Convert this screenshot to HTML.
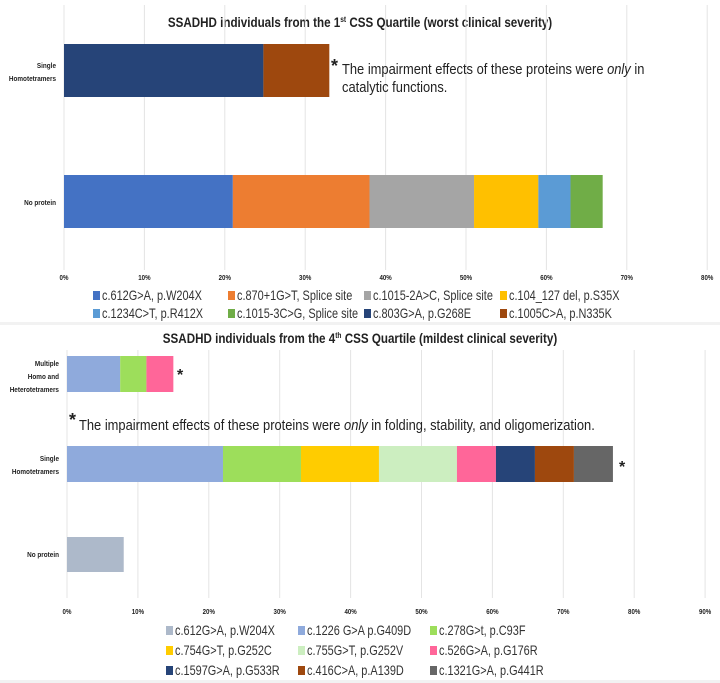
<!DOCTYPE html>
<html><head><meta charset="utf-8">
<style>
body{margin:0;background:#f2f2f2;font-family:"Liberation Sans",sans-serif;}
svg{display:block}
</style></head>
<body>
<svg id="c" width="720" height="683" xmlns="http://www.w3.org/2000/svg"></svg>
<script>
const topCats = ["Single Homotetramers","No protein"];
const topSeriesNames = ["c.612G>A, p.W204X","c.870+1G>T, Splice site","c.1015-2A>C, Splice site","c.104_127 del, p.S35X","c.1234C>T, p.R412X","c.1015-3C>G, Splice site","c.803G>A, p.G268E","c.1005C>A, p.N335K"];
const topSeriesColors = ["#4472C4","#ED7D31","#A5A5A5","#FFC000","#5B9BD5","#70AD47","#264478","#9E480E"];
const topSingle = [0,0,0,0,0,0,24.8,8.2];
const topNoProtein = [21,17,13,8,4,4,0,0];
const topTicks = ["0%","10%","20%","30%","40%","50%","60%","70%","80%"];

const botCats = ["Multiple Homo and Heterotetramers","Single Homotetramers","No protein"];
const botSeriesNames = ["c.612G>A, p.W204X","c.1226 G>A p.G409D","c.278G>t, p.C93F","c.754G>T, p.G252C","c.755G>T, p.G252V","c.526G>A, p.G176R","c.1597G>A, p.G533R","c.416C>A, p.A139D","c.1321G>A, p.G441R"];
const botSeriesColors = ["#ADB9CA","#8FAADC","#9DDE5B","#FFCC00","#CCEEC0","#FF6699","#264478","#9E480E","#666666"];
const botMultiple = [0,7.5,3.7,0,0,3.8,0,0,0];
const botSingle = [0,22,11,11,11,5.5,5.5,5.5,5.5];
const botNoProtein = [8,0,0,0,0,0,0,0,0];
const botTicks = ["0%","10%","20%","30%","40%","50%","60%","70%","80%","90%"];

const svg = document.getElementById('c');
const NS = "http://www.w3.org/2000/svg";
function mk(tag, attrs, name, parent){
  const e = document.createElementNS(NS, tag);
  for (const k in attrs) e.setAttribute(k, attrs[k]);
  
  
  (parent||svg).appendChild(e);
  return e;
}
function squeeze(t,f){
  const w = t.getComputedTextLength();
  if (w>0){ t.setAttribute('textLength', (w*f).toFixed(1)); t.setAttribute('lengthAdjust','spacingAndGlyphs'); }
}
function txt(x,y,s,size,name,opts){
  opts=opts||{};
  const t = mk('text',{x:x,y:y,'font-size':size,fill:opts.fill||'#222','text-anchor':opts.anchor||'start','font-weight':opts.bold?'bold':'normal','font-family':'"Liberation Sans",sans-serif'},name);
  if (opts.html) t.innerHTML = s; else t.textContent = s;
  squeeze(t, opts.f||0.82);
  return t;
}

mk('rect',{x:0,y:0,width:720,height:322,fill:'#fff'},'top-panel');
mk('rect',{x:0,y:325,width:720,height:355,fill:'#fff'},'bottom-panel');

function chart(cfg){
  const xs = v => cfg.x0 + v * cfg.pxPer;
  cfg.ticks.forEach((t,i)=>{
    const x = xs(i*10);
    mk('line',{x1:x,x2:x,y1:cfg.gy0,y2:cfg.gy1,stroke:'#e4e4e4','stroke-width':1},cfg.p+'-gridline');
    txt(x,cfg.tickY,t,7.5,cfg.p+'-x-tick',{anchor:'middle',bold:true});
  });
  cfg.rows.forEach((r,ri)=>{
    let acc=0;
    r.vals.forEach((v,si)=>{
      if(v<=0) return;
      mk('rect',{x:xs(acc),y:r.y,width:xs(acc+v)-xs(acc),height:r.h,fill:cfg.colors[si]},cfg.p+'-bar-'+ri+'-'+si);
      acc+=v;
    });
    r.label.forEach((l,li)=>txt(cfg.x0-8,r.ly+li*13,l,7.5,cfg.p+'-y-label',{anchor:'end',bold:true,f:0.85}));
  });
  cfg.names.forEach((n,i)=>{
    const col=i%cfg.perRow,row=Math.floor(i/cfg.perRow);
    const x=cfg.legX[col],y=cfg.legY+row*cfg.legDy;
    mk('rect',{x:x,y:y-9,width:7,height:9,fill:cfg.colors[i]},cfg.p+'-legend-swatch');
    txt(x+9,y,n,14,cfg.p+'-legend-entry',{fill:'#333',f:0.78});
  });
}

txt(360,27,'SSADHD individuals from the 1<tspan font-size="8" dy="-5">st</tspan><tspan dy="5"> CSS Quartile (worst clinical severity)</tspan>',14,'top-title',{anchor:'middle',bold:true,html:true,f:0.83});
chart({p:'top',x0:64,pxPer:8.04,ticks:topTicks,gy0:5,gy1:270,tickY:280,colors:topSeriesColors,names:topSeriesNames,
  rows:[{vals:topSingle,y:44,h:53,label:["Single","Homotetramers"],ly:68},{vals:topNoProtein,y:175,h:53,label:["No protein"],ly:205}],
  perRow:4,legX:[93,228,364,500],legY:300,legDy:18});
txt(331,72,"*",18,'top-asterisk',{bold:true,f:1});
txt(342,74,'The impairment effects of these proteins were <tspan font-style="italic">only</tspan> in',15,'top-note',{html:true,f:0.86});
txt(342,92,"catalytic functions.",15,'top-note-line2',{f:0.86});

txt(360,343,'SSADHD individuals from the 4<tspan font-size="8" dy="-5">th</tspan><tspan dy="5"> CSS Quartile (mildest clinical severity)</tspan>',14,'bottom-title',{anchor:'middle',bold:true,html:true,f:0.83});
chart({p:'bot',x0:67,pxPer:7.09,ticks:botTicks,gy0:350,gy1:598,tickY:614,colors:botSeriesColors,names:botSeriesNames,
  rows:[{vals:botMultiple,y:356,h:36,label:["Multiple","Homo and","Heterotetramers"],ly:366},
        {vals:botSingle,y:446,h:36,label:["Single","Homotetramers"],ly:461},
        {vals:botNoProtein,y:537,h:35,label:["No protein"],ly:557}],
  perRow:3,legX:[166,298,430],legY:635,legDy:20});
txt(177,380,"*",16,'bot-asterisk-1',{bold:true,f:1});
txt(619,472,"*",16,'bot-asterisk-2',{bold:true,f:1});
txt(69,426,"*",18,'bot-note-asterisk',{bold:true,f:1});
txt(79,430,'The impairment effects of these proteins were <tspan font-style="italic">only</tspan> in folding, stability, and oligomerization.',15,'bot-note',{html:true,f:0.86});
</script>
</body></html>
